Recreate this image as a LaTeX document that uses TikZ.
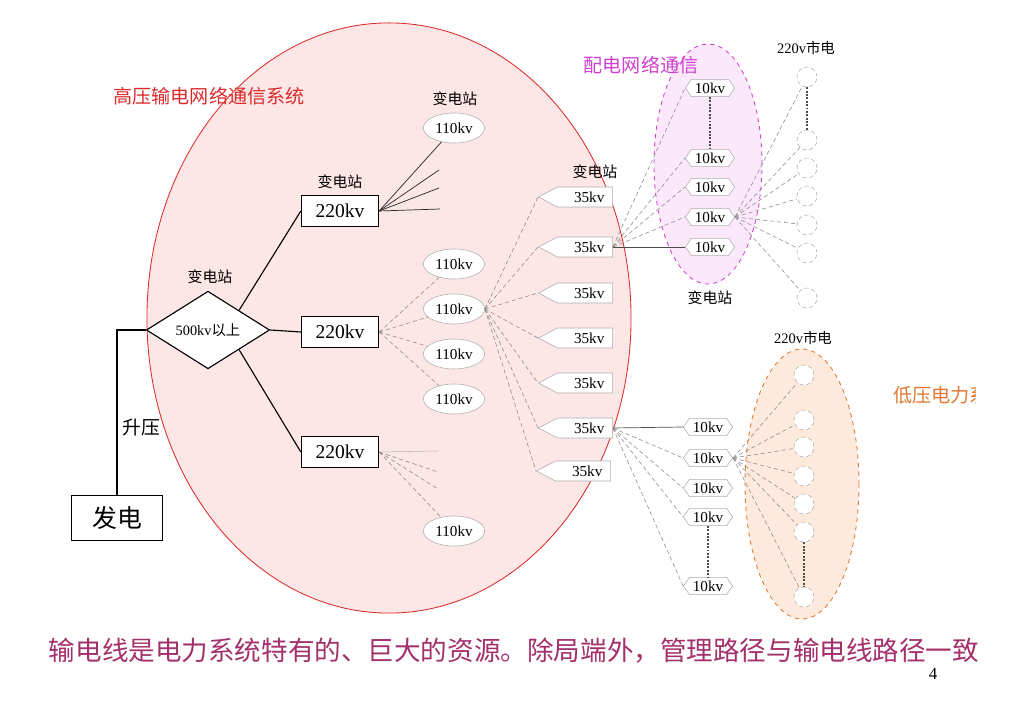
\documentclass[tikz,border=0pt]{standalone}
\usepackage{fontspec}
\setmainfont{Liberation Serif}
\newfontfamily\cjk{Noto Sans CJK SC}
\usetikzlibrary{shapes.geometric,shapes.symbols}
\definecolor{HVRed}{HTML}{DC2A2A}
\definecolor{HVFill}{HTML}{FDE6E6}
\definecolor{DistMagenta}{HTML}{D040D0}
\definecolor{DistFill}{HTML}{FCE8FB}
\definecolor{LVOrange}{HTML}{E2782F}
\definecolor{LVFill}{HTML}{FDEADC}
\definecolor{NoteMaroon}{HTML}{A3306B}
\definecolor{EdgeGray}{HTML}{8A8A8A}
\tikzset{
    % Zone ellipses
    zonenode/.style={
        ellipse,
        line width=0.6pt,
        inner sep=0pt
    },
    hvzone/.style={
        zonenode,
        draw=HVRed,
        fill=HVFill
    },
    distzone/.style={
        zonenode,
        draw=DistMagenta,
        fill=DistFill,
        dashed
    },
    lvzone/.style={
        zonenode,
        draw=LVOrange,
        fill=LVFill,
        dashed
    },
    % Base box
    basebox/.style={
        draw=black,
        fill=white,
        line width=0.8pt,
        inner sep=0pt,
        align=center
    },
    % 220kv station
    kvbox/.style={
        basebox,
        minimum width=1.93cm,
        minimum height=0.78cm,
        font=\fontsize{13.9}{16}\selectfont
    },
    % Generator
    genbox/.style={
        basebox,
        minimum width=2.28cm,
        minimum height=1.13cm,
        font=\cjk\fontsize{17.7}{20}\selectfont
    },
    % 500kv hub
    hubnode/.style={
        basebox,
        diamond,
        minimum width=3.08cm,
        minimum height=1.88cm,
        font=\fontsize{10.2}{12}\selectfont
    },
    % Small station base
    smallnode/.style={
        draw=EdgeGray!70,
        fill=white,
        line width=0.4pt,
        inner sep=0pt,
        font=\fontsize{10.8}{12}\selectfont
    },
    % 110kv station
    subnode/.style={
        smallnode,
        ellipse,
        minimum width=1.53cm,
        minimum height=0.75cm
    },
    % 35kv station
    feedernode/.style={
        smallnode,
        signal,
        signal to=west,
        signal pointer angle=56,
        minimum width=1.85cm,
        minimum height=0.5cm
    },
    % 10kv station
    distnode/.style={
        smallnode,
        signal,
        signal to=west and east,
        signal pointer angle=110,
        minimum width=1.23cm,
        minimum height=0.43cm
    },
    % 220v user
    usernode/.style={
        smallnode,
        circle,
        densely dashed,
        minimum size=0.5cm
    },
    % Labels
    tagnode/.style={
        inner sep=0pt,
        font=\cjk\fontsize{10.6}{12}\selectfont
    },
    titlenode/.style={
        inner sep=0pt,
        font=\cjk\fontsize{13.6}{16}\selectfont
    },
    % Lines
    mainline/.style={
        line width=0.8pt,
        draw=black
    },
    solidfan/.style={
        line width=0.5pt,
        draw=black!85
    },
    fanline/.style={
        line width=0.4pt,
        draw=EdgeGray,
        densely dashed
    },
    linkline/.style={
        line width=1.4pt,
        draw=black!70,
        densely dotted
    }
}
\begin{document}
\begin{tikzpicture}[x=0.025cm, y=-0.025cm]
        \useasboundingbox (0,0) rectangle (1024,720);

        % Zones
        \node[hvzone, minimum width=12.1cm, minimum height=14.75cm] (hvnet) at (389,318) {};
        \node[distzone, minimum width=2.7cm, minimum height=6cm] (distnet) at (708,164) {};
        \node[lvzone, minimum width=2.85cm, minimum height=6.75cm] (lvnet) at (802,484) {};

        % Zone titles
        \node[titlenode, text=HVRed] (hvtitle) at (209,96) {高压输电网络通信系统};
        \node[titlenode, text=DistMagenta] (disttitle) at (641,65) {配电网络通信};
        \begin{scope}
            \clip (0,0) rectangle (975,720);
            \node[titlenode, text=LVOrange, anchor=west] (lvtitle) at (893,395) {低压电力系统};
        \end{scope}

        % Generation and 500kv hub
        \node[genbox] (gen) at (117,518) {发电};
        \node[hubnode] (hub) at (208,330) {500kv{\cjk 以上}};
        \node[tagnode] (hubtag) at (210,277) {变电站};
        \node[titlenode, font=\cjk\fontsize{13.4}{16}\selectfont] (boost) at (141,427) {升压};

        % 220kv stations
        \node[kvbox] (b1) at (340,211) {220kv};
        \node[kvbox] (b2) at (340,332) {220kv};
        \node[kvbox] (b3) at (340,452) {220kv};
        \node[tagnode] (b1tag) at (340,182) {变电站};

        % 110kv stations
        \node[subnode] (e0) at (454,128) {110kv};
        \node[tagnode] (e0tag) at (455,99) {变电站};
        \node[subnode] (e1) at (454,264) {110kv};
        \node[subnode] (e2) at (454,309) {110kv};
        \node[subnode] (e3) at (454,354) {110kv};
        \node[subnode] (e4) at (454,399) {110kv};
        \node[subnode] (e5) at (454,531) {110kv};

        % 35kv stations
        \node[feedernode] (s1) at (585,197) {\hspace*{6pt}35kv};
        \node[feedernode] (s2) at (585,247) {\hspace*{6pt}35kv};
        \node[feedernode] (s3) at (585,293) {\hspace*{6pt}35kv};
        \node[feedernode] (s4) at (585,338) {\hspace*{6pt}35kv};
        \node[feedernode] (s5) at (585,383) {\hspace*{6pt}35kv};
        \node[feedernode] (s6) at (585,428) {\hspace*{6pt}35kv};
        \node[feedernode] (s7) at (583,471) {\hspace*{6pt}35kv};
        \node[tagnode] (s1tag) at (595,172) {变电站};

        % 10kv stations (upper)
        \node[distnode] (h1) at (710,88) {10kv};
        \node[distnode] (h2) at (710,158) {10kv};
        \node[distnode] (h3) at (710,187) {10kv};
        \node[distnode] (h4) at (710,217) {10kv};
        \node[distnode] (h5) at (710,247) {10kv};
        \node[tagnode] (h5tag) at (710,298) {变电站};

        % 10kv stations (lower)
        \node[distnode] (k1) at (708,427) {10kv};
        \node[distnode] (k2) at (708,458) {10kv};
        \node[distnode] (k3) at (708,488) {10kv};
        \node[distnode] (k4) at (708,517) {10kv};
        \node[distnode] (k5) at (708,586) {10kv};

        % 220v users (upper)
        \node[tagnode, font=\fontsize{10.3}{12}\selectfont] (ctag) at (806,48) {220v{\cjk 市电}};
        \node[usernode] (c1) at (807,77) {};
        \node[usernode] (c2) at (807,140) {};
        \node[usernode] (c3) at (807,168) {};
        \node[usernode] (c4) at (807,196) {};
        \node[usernode] (c5) at (807,225) {};
        \node[usernode] (c6) at (807,253) {};
        \node[usernode] (c7) at (807,298) {};

        % 220v users (lower)
        \node[tagnode, font=\fontsize{10.3}{12}\selectfont] (dtag) at (803,338) {220v{\cjk 市电}};
        \node[usernode] (d1) at (804,375) {};
        \node[usernode] (d2) at (804,420) {};
        \node[usernode] (d3) at (804,447) {};
        \node[usernode] (d4) at (804,476) {};
        \node[usernode] (d5) at (804,504) {};
        \node[usernode] (d6) at (804,532) {};
        \node[usernode] (d7) at (804,597) {};

        % Open line ends
        \coordinate (t1) at (439,170);
        \coordinate (t2) at (439,188);
        \coordinate (t3) at (440,209);
        \coordinate (u1) at (438,451);
        \coordinate (u2) at (438,472);
        \coordinate (u3) at (438,489);

        % Main lines
        \draw[mainline] (gen.north) |- (hub.west);
        \draw[mainline] (hub.north east) -- (b1.west);
        \draw[mainline] (hub.east) -- (b2.west);
        \draw[mainline] (hub.south east) -- (b3.west);

        % 220kv fans
        \draw[solidfan] (b1.east) -- (e0);
        \draw[solidfan] (b1.east) -- (t1);
        \draw[solidfan] (b1.east) -- (t2);
        \draw[solidfan] (b1.east) -- (t3);
        \draw[fanline] (b2.east) -- (e1);
        \draw[fanline] (b2.east) -- (e2);
        \draw[fanline] (b2.east) -- (e3);
        \draw[fanline] (b2.east) -- (e4);
        \draw[fanline, solid, draw=EdgeGray!60] (b3.east) -- (u1);
        \draw[fanline] (b3.east) -- (u2);
        \draw[fanline] (b3.east) -- (u3);
        \draw[fanline] (b3.east) -- (e5);

        % 110kv fan
        \draw[fanline] (e2.east) -- (s1.west);
        \draw[fanline] (e2.east) -- (s2.west);
        \draw[fanline] (e2.east) -- (s3.west);
        \draw[fanline] (e2.east) -- (s4.west);
        \draw[fanline] (e2.east) -- (s5.west);
        \draw[fanline] (e2.east) -- (s6.west);
        \draw[fanline] (e2.east) -- (s7.west);

        % 35kv fans
        \draw[solidfan, draw=black!70] (s2.east) -- (h5.west);
        \draw[fanline] (s2.east) -- (h4.west);
        \draw[fanline] (s2.east) -- (h3.west);
        \draw[fanline] (s2.east) -- (h2.west);
        \draw[fanline] (s2.east) -- (h1.west);
        \draw[solidfan, draw=black!70] (s6.east) -- (k1.west);
        \draw[fanline] (s6.east) -- (k2.west);
        \draw[fanline] (s6.east) -- (k3.west);
        \draw[fanline] (s6.east) -- (k4.west);
        \draw[fanline] (s6.east) -- (k5.west);

        % 10kv fans
        \draw[fanline] (h4.east) -- (c1);
        \draw[fanline] (h4.east) -- (c2);
        \draw[fanline] (h4.east) -- (c3);
        \draw[fanline] (h4.east) -- (c4);
        \draw[fanline] (h4.east) -- (c5);
        \draw[fanline] (h4.east) -- (c6);
        \draw[fanline] (h4.east) -- (c7);
        \draw[fanline] (k2.east) -- (d1);
        \draw[fanline] (k2.east) -- (d2);
        \draw[fanline] (k2.east) -- (d3);
        \draw[fanline] (k2.east) -- (d4);
        \draw[fanline] (k2.east) -- (d5);
        \draw[fanline] (k2.east) -- (d6);
        \draw[fanline] (k2.east) -- (d7);

        % Omitted stations
        \draw[linkline] (h1.south) -- (h2.north);
        \draw[linkline] (c1) -- (c2);
        \draw[linkline] (k4.south) -- (k5.north);
        \draw[linkline] (d6) -- (d7);

        % Caption
        \node[inner sep=0pt, text=NoteMaroon, font=\cjk\fontsize{18.9}{22}\selectfont] (note) at (514,651) {输电线是电力系统特有的、巨大的资源。除局端外，管理路径与输电线路径一致};
        \node[inner sep=0pt, font=\fontsize{12}{14}\selectfont] (pagenum) at (933,674) {4};
    \end{tikzpicture}
\end{document}
